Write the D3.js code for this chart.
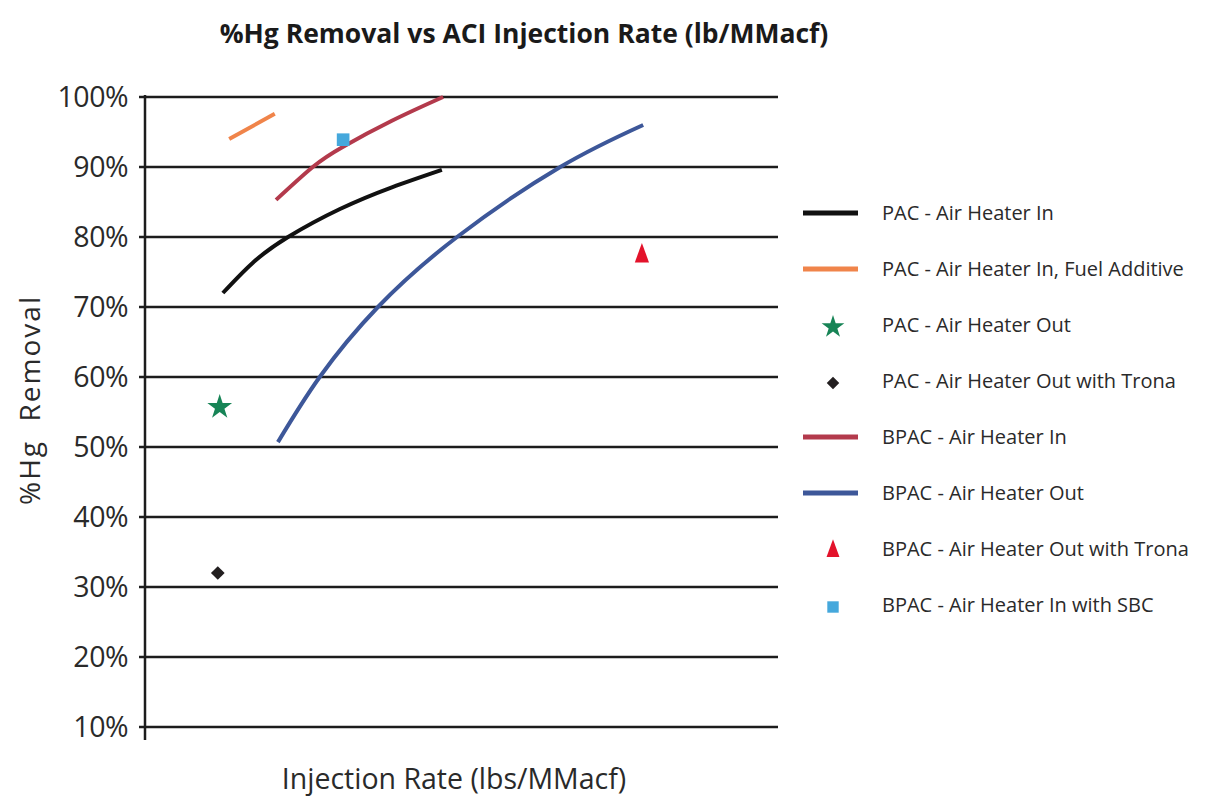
<!DOCTYPE html>
<html>
<head>
<meta charset="utf-8">
<script src="https://cdn.jsdelivr.net/npm/d3@7"></script>
<style>
  body { margin: 0; background: #fff; }
  text { font-family: "Open Sans", "Noto Sans", sans-serif; }
</style>
</head>
<body>
<svg id="chart" width="1205" height="801"></svg>
<script>
// values (x in arbitrary injection-rate units, y in % removal)
var yTicks = [10, 20, 30, 40, 50, 60, 70, 80, 90, 100];

var pacIn = [[1.23, 72.0], [1.7, 76.3], [2.26, 80.0], [3.08, 84.0], [3.9, 87.1], [4.69, 89.6]];
var pacFuel = [[1.33, 94.0], [2.05, 97.6]];
var bpacIn = [[2.07, 85.3], [2.65, 90.0], [3.13, 92.9], [3.9, 96.6], [4.71, 100]];
var bpacOut = [[2.10, 50.7], [2.76, 60.0], [3.68, 70.0], [4.93, 80.0], [6.56, 90.0], [7.87, 96.0]];

var pacOutPt = [[1.18, 55.7]];
var pacTronaPt = [[1.15, 32.0]];
var bpacTronaPt = [[7.85, 77.3]];
var bpacSbcPt = [[3.13, 93.9]];

var legendNames = [
  "PAC - Air Heater In",
  "PAC - Air Heater In, Fuel Additive",
  "PAC - Air Heater Out",
  "PAC - Air Heater Out with Trona",
  "BPAC - Air Heater In",
  "BPAC - Air Heater Out",
  "BPAC - Air Heater Out with Trona",
  "BPAC - Air Heater In with SBC"
];

var svg = d3.select("#chart");

var x = d3.scaleLinear().domain([0, 10]).range([145, 778]);
var y = d3.scaleLinear().domain([10, 100]).range([727, 97]);

// title
svg.append("text")
  .attr("x", 524).attr("y", 43)
  .attr("text-anchor", "middle")
  .attr("font-size", 26.5).attr("font-weight", "bold")
  .attr("fill", "#1a1a1a")
  .text("%Hg Removal vs ACI Injection Rate (lb/MMacf)");

// grid lines
svg.append("g").selectAll("line")
  .data(yTicks).enter().append("line")
  .attr("x1", 139).attr("x2", 778)
  .attr("y1", function(d) { return y(d); })
  .attr("y2", function(d) { return y(d); })
  .attr("stroke", "#1c1c1c").attr("stroke-width", 2.5);

// y axis line
svg.append("line")
  .attr("x1", x(0)).attr("x2", x(0))
  .attr("y1", y(100) - 2).attr("y2", y(10) + 13)
  .attr("stroke", "#1c1c1c").attr("stroke-width", 2.5);

// y tick labels
svg.append("g").selectAll("text")
  .data(yTicks).enter().append("text")
  .attr("x", 128)
  .attr("y", function(d) { return y(d) + 10; })
  .attr("text-anchor", "end")
  .attr("font-size", 28.5)
  .attr("letter-spacing", -0.5)
  .attr("fill", "#2a2a2a")
  .text(function(d) { return d + "%"; });

// axis titles
svg.append("text")
  .attr("transform", "translate(40,400) rotate(-90)")
  .attr("text-anchor", "middle")
  .attr("font-size", 28).attr("fill", "#2a2a2a")
  .attr("letter-spacing", 2)
  .attr("xml:space", "preserve")
  .text("%Hg  Removal");

svg.append("text")
  .attr("x", 454).attr("y", 789)
  .attr("text-anchor", "middle")
  .attr("font-size", 28.5).attr("fill", "#2a2a2a")
  .text("Injection Rate (lbs/MMacf)");

// curves
var line = d3.line()
  .x(function(d) { return x(d[0]); })
  .y(function(d) { return y(d[1]); })
  .curve(d3.curveNatural);

var curves = [
  { data: pacIn, color: "#111111" },
  { data: pacFuel, color: "#f0844a" },
  { data: bpacIn, color: "#b33a4c" },
  { data: bpacOut, color: "#3d5799" }
];

svg.append("g").selectAll("path")
  .data(curves).enter().append("path")
  .attr("d", function(d) { return line(d.data); })
  .attr("fill", "none")
  .attr("stroke", function(d) { return d.color; })
  .attr("stroke-width", 4)
  .attr("stroke-linecap", "butt");

// point markers
function marker(g, type, color, size, sx, sy) {
  g.append("path")
    .attr("d", d3.symbol().type(type).size(size)())
    .attr("transform", "scale(" + (sx || 1) + "," + (sy || 1) + ")")
    .attr("fill", color);
}

var points = [
  { data: pacOutPt, type: d3.symbolStar, color: "#178456", size: 190 },
  { data: pacTronaPt, type: d3.symbolDiamond2, color: "#231f20", size: 120 },
  { data: bpacTronaPt, type: d3.symbolTriangle, color: "#e3132b", size: 120, sx: 0.85, sy: 1.35 },
  { data: bpacSbcPt, type: d3.symbolSquare, color: "#45a8dc", size: 160 }
];

points.forEach(function(p) {
  p.data.forEach(function(d) {
    var g = svg.append("g").attr("transform", "translate(" + x(d[0]) + "," + y(d[1]) + ")");
    marker(g, p.type, p.color, p.size, p.sx, p.sy);
  });
});

// legend
var legendTypes = [
  { kind: "line", color: "#111111" },
  { kind: "line", color: "#f0844a" },
  { kind: "sym", type: d3.symbolStar, color: "#178456", size: 160 },
  { kind: "sym", type: d3.symbolDiamond2, color: "#231f20", size: 100 },
  { kind: "line", color: "#b33a4c" },
  { kind: "line", color: "#3d5799" },
  { kind: "sym", type: d3.symbolTriangle, color: "#e3132b", size: 100, sx: 0.85, sy: 1.35 },
  { kind: "sym", type: d3.symbolSquare, color: "#45a8dc", size: 130 }
];

var leg = svg.append("g").selectAll("g")
  .data(legendNames).enter().append("g")
  .attr("transform", function(d, i) { return "translate(0," + (213 + i * 56) + ")"; });

leg.each(function(d, i) {
  var g = d3.select(this);
  var t = legendTypes[i];
  if (t.kind == "line") {
    g.append("line")
      .attr("x1", 803).attr("x2", 858)
      .attr("stroke", t.color).attr("stroke-width", 5);
  } else {
    var s = g.append("g").attr("transform", "translate(833,2)");
    marker(s, t.type, t.color, t.size, t.sx, t.sy);
  }
  g.append("text")
    .attr("x", 882).attr("y", 7)
    .attr("font-size", 20).attr("fill", "#2a2a2a")
    .text(d);
});
</script>
</body>
</html>
